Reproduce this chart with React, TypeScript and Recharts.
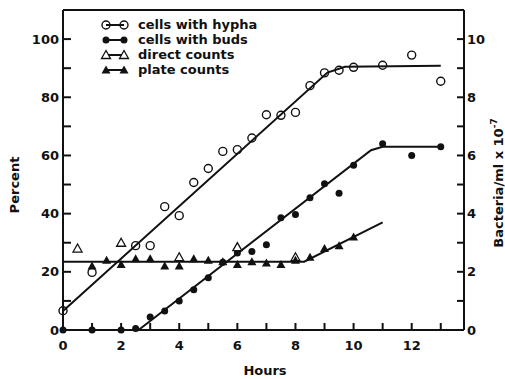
import React from "react";
import {
  ComposedChart,
  Line,
  Scatter,
  XAxis,
  YAxis,
  ReferenceLine,
  Legend,
} from "recharts";

// measured points (hours / percent)
const hyphaHours = [0, 1, 2.5, 3, 3.5, 4, 4.5, 5, 5.5, 6, 6.5, 7, 7.5, 8, 8.5, 9, 9.5, 10, 11, 12, 13];
const hyphaPct = [6.6, 19.8, 29, 29, 42.4, 39.3, 50.7, 55.5, 61.4, 62, 66, 74, 73.8, 74.8, 84, 88.4, 89.3, 90.3, 91, 94.5, 85.5];

const budsHours = [0, 1, 2, 2.5, 3, 3.5, 4, 4.5, 5, 5.5, 6, 6.5, 7, 7.5, 8, 8.5, 9, 9.5, 10, 11, 12, 13];
const budsPct = [0, 0, 0, 0.5, 4.5, 6.5, 10, 13.8, 18, 23.3, 26.5, 27, 29.3, 38.6, 39.7, 45.5, 50.3, 47, 56.6, 64, 60, 63];

// bacteria / ml x 10^7
const directHours = [0.5, 2, 4, 6, 8];
const directCounts = [2.8, 3.0, 2.5, 2.85, 2.5];

const plateHours = [1, 1.5, 2, 2.5, 3, 3.5, 4, 4.5, 5, 5.5, 6, 6.5, 7, 7.5, 8, 8.5, 9, 9.5, 10];
const plateCounts = [2.2, 2.4, 2.25, 2.45, 2.45, 2.2, 2.2, 2.45, 2.4, 2.35, 2.25, 2.35, 2.3, 2.25, 2.4, 2.5, 2.8, 2.9, 3.2];

// fitted lines drawn through the points
const hyphaFitHours = [0, 9.1, 9.7, 13];
const hyphaFitPct = [6.5, 88.5, 90.5, 90.8];
const budsFitHours = [2.6, 10.6, 11, 13];
const budsFitPct = [0, 61.8, 63, 63];
const plateFitHours = [0, 8.3, 11];
const plateFitCounts = [2.35, 2.35, 3.7];

const hourTicks = [0, 1, 2, 3, 4, 5, 6, 7, 8, 9, 10, 11, 12, 13];
const pctTicks = [0, 10, 20, 30, 40, 50, 60, 70, 80, 90, 100];
const countTicks = [0, 1, 2, 3, 4, 5, 6, 7, 8, 9, 10];

const legendItems = [
  { name: "cells with hypha", marker: "openCircle" },
  { name: "cells with buds", marker: "dot" },
  { name: "direct counts", marker: "openTri" },
  { name: "plate counts", marker: "tri" },
];

const zip = (xs: number[], ys: number[]) => xs.map((x, i) => ({ x, y: ys[i] }));

const FONT = "'DejaVu Sans', sans-serif";
const INK = "#111";

function Marker({ kind, cx, cy }: { kind: string; cx: number; cy: number }) {
  if (kind === "openCircle")
    return <circle cx={cx} cy={cy} r={4} fill="none" stroke={INK} strokeWidth={1.4} />;
  if (kind === "dot") return <circle cx={cx} cy={cy} r={3.5} fill={INK} />;
  const pts = `${cx - 4.5},${cy + 3.5} ${cx + 4.5},${cy + 3.5} ${cx},${cy - 4.5}`;
  if (kind === "openTri")
    return <polygon points={pts} fill="#fff" stroke={INK} strokeWidth={1.3} />;
  return <polygon points={pts} fill={INK} />;
}

const shape = (kind: string) => (props: any) =>
  <Marker kind={kind} cx={props.cx} cy={props.cy} />;

const XTick = ({ x, y, payload }: any) => (
  <g>
    <line x1={x} y1={y} x2={x} y2={y - 7} stroke={INK} strokeWidth={2} />
    {payload.value % 2 === 0 && (
      <text x={x} y={y + 20} textAnchor="middle" fontFamily={FONT} fontWeight="bold" fontSize={13} fill={INK}>
        {payload.value}
      </text>
    )}
  </g>
);

const LeftTick = ({ x, y, payload }: any) => (
  <g>
    <line x1={x} y1={y} x2={x + 8} y2={y} stroke={INK} strokeWidth={2} />
    {payload.value % 20 === 0 && (
      <text x={x - 4} y={y + 4.5} textAnchor="end" fontFamily={FONT} fontWeight="bold" fontSize={13} fill={INK}>
        {payload.value}
      </text>
    )}
  </g>
);

const RightTick = ({ x, y, payload }: any) => (
  <g>
    <line x1={x} y1={y} x2={x - 7} y2={y} stroke={INK} strokeWidth={2} />
    {payload.value % 2 === 0 && (
      <text x={x + 3} y={y + 4.5} textAnchor="start" fontFamily={FONT} fontWeight="bold" fontSize={13} fill={INK}>
        {payload.value}
      </text>
    )}
  </g>
);

const LegendBox = () => (
  <div style={{ fontFamily: FONT, fontWeight: "bold", fontSize: 13, color: INK, width: 220 }}>
    {legendItems.map((item) => (
      <div key={item.name} style={{ display: "flex", alignItems: "center", height: 15 }}>
        <svg width={30} height={14} style={{ marginRight: 8 }}>
          <line x1={6} y1={7} x2={24} y2={7} stroke={INK} strokeWidth={2} />
          <Marker kind={item.marker} cx={6} cy={7} />
          <Marker kind={item.marker} cx={24} cy={7} />
        </svg>
        <span>{item.name}</span>
      </div>
    ))}
  </div>
);

const labelStyle = { fontFamily: FONT, fontWeight: "bold" as const, fontSize: 13, fill: INK };

export default function App() {
  return (
    <div style={{ position: "absolute", left: 0, top: 0, width: 505, height: 379, background: "#fff" }}>
      <ComposedChart width={505} height={379} margin={{ top: 10, right: 11, bottom: 19, left: 13 }}>
        <XAxis
          type="number"
          dataKey="x"
          domain={[0, 13.8]}
          ticks={hourTicks}
          interval={0}
          tickSize={0}
          tickMargin={0}
          tickLine={false}
          tick={<XTick />}
          height={30}
          axisLine={{ stroke: INK, strokeWidth: 2 }}
          label={{
            content: () => (
              <text x={265} y={375} textAnchor="middle" {...labelStyle}>
                Hours
              </text>
            ),
          }}
        />
        <YAxis
          yAxisId="pct"
          type="number"
          dataKey="y"
          domain={[0, 110]}
          ticks={pctTicks}
          interval={0}
          width={50}
          tickSize={0}
          tickMargin={0}
          tickLine={false}
          tick={<LeftTick />}
          axisLine={{ stroke: INK, strokeWidth: 2 }}
          label={{
            content: () => (
              <text x={19} y={185} textAnchor="middle" transform="rotate(-90 19 185)" {...labelStyle}>
                Percent
              </text>
            ),
          }}
        />
        <YAxis
          yAxisId="count"
          orientation="right"
          type="number"
          dataKey="y"
          domain={[0, 11]}
          ticks={countTicks}
          interval={0}
          width={30}
          tickSize={0}
          tickMargin={0}
          tickLine={false}
          tick={<RightTick />}
          axisLine={{ stroke: INK, strokeWidth: 2 }}
          label={{
            content: () => (
              <text x={503} y={183} textAnchor="middle" transform="rotate(-90 503 183)" {...labelStyle}>
                Bacteria/ml x 10
                <tspan fontSize={9} dy={-6}>-7</tspan>
              </text>
            ),
          }}
        />
        <ReferenceLine yAxisId="pct" y={110} stroke={INK} strokeWidth={2} />

        <Legend
          content={<LegendBox />}
          wrapperStyle={{ position: "absolute", left: 100, top: 17, width: 0, height: 0, overflow: "visible" }}
        />

        <Line yAxisId="pct" data={zip(hyphaFitHours, hyphaFitPct)} dataKey="y" type="linear" stroke={INK} strokeWidth={2} dot={false} isAnimationActive={false} legendType="none" />
        <Line yAxisId="pct" data={zip(budsFitHours, budsFitPct)} dataKey="y" type="linear" stroke={INK} strokeWidth={2} dot={false} isAnimationActive={false} legendType="none" />
        <Line yAxisId="count" data={zip(plateFitHours, plateFitCounts)} dataKey="y" type="linear" stroke={INK} strokeWidth={2} dot={false} isAnimationActive={false} legendType="none" />

        <Scatter yAxisId="pct" name="cells with hypha" data={zip(hyphaHours, hyphaPct)} shape={shape("openCircle")} isAnimationActive={false} />
        <Scatter yAxisId="pct" name="cells with buds" data={zip(budsHours, budsPct)} shape={shape("dot")} isAnimationActive={false} />
        <Scatter yAxisId="count" name="direct counts" data={zip(directHours, directCounts)} shape={shape("openTri")} isAnimationActive={false} />
        <Scatter yAxisId="count" name="plate counts" data={zip(plateHours, plateCounts)} shape={shape("tri")} isAnimationActive={false} />
      </ComposedChart>
    </div>
  );
}
